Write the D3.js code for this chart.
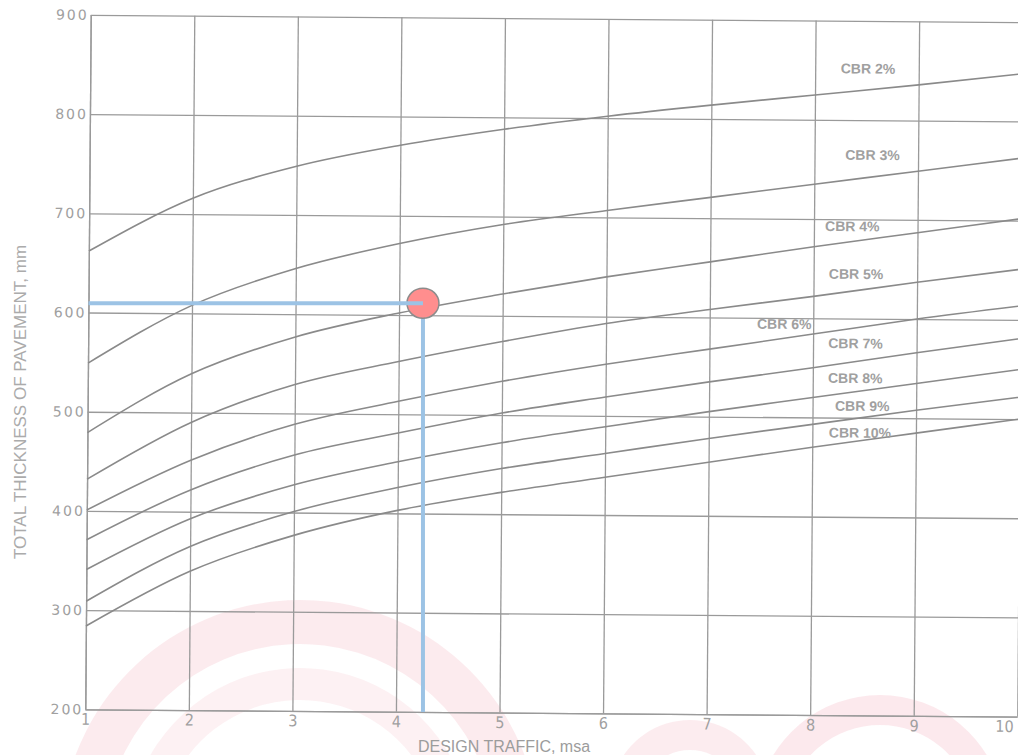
<!DOCTYPE html>
<html>
<head>
<meta charset="utf-8">
<script src="https://cdn.jsdelivr.net/npm/d3@7"></script>
<style>
  html, body { margin: 0; padding: 0; background: #ffffff; }
  svg { display: block; }
</style>
</head>
<body>
<svg id="chart" width="1018" height="755"></svg>
<script>
// Design traffic (million standard axles) at which each curve is tabulated
const trafficMsa = [1, 2, 3, 4, 5, 6, 7, 8, 9, 10];

// Total pavement thickness (mm) for each subgrade CBR
const cbr2  = [662, 716, 749, 771, 788, 802, 814, 825, 836, 848];
const cbr3  = [549, 608, 646, 672, 692, 707, 721, 735, 749, 763];
const cbr4  = [479, 539, 577, 602, 622, 640, 656, 672, 687, 702];
const cbr5  = [432, 490, 529, 553, 574, 593, 608, 622, 637, 651];
const cbr6  = [401, 452, 489, 513, 534, 552, 568, 584, 600, 614];
const cbr7  = [371, 422, 458, 481, 502, 519, 535, 550, 566, 581];
const cbr8  = [341, 393, 428, 452, 472, 489, 505, 520, 535, 550];
const cbr9  = [309, 365, 401, 426, 446, 462, 478, 493, 508, 522];
const cbr10 = [284, 340, 377, 403, 422, 438, 454, 470, 485, 500];

const cbrNames = ["CBR 2%", "CBR 3%", "CBR 4%", "CBR 5%", "CBR 6%", "CBR 7%", "CBR 8%", "CBR 9%", "CBR 10%"];

// Axis ticks
const xTickValues = [1, 2, 3, 4, 5, 6, 7, 8, 9, 10];
const yTickValues = [200, 300, 400, 500, 600, 700, 800, 900];

// Worked example: design traffic and thickness
const exampleTraffic = 4.23;
const exampleThickness = 612;

const series = [cbr2, cbr3, cbr4, cbr5, cbr6, cbr7, cbr8, cbr9, cbr10].map((vals, i) => ({
  name: cbrNames[i],
  points: trafficMsa.map((t, j) => [t, vals[j]])
}));

// ---- layout ----
const svg = d3.select("#chart");
const plotLeft = 88, plotRight = 1020, plotTop = 18.5, plotBottom = 713;
const x = d3.scaleLinear().domain([1, 10]).range([plotLeft, plotRight]);
const y = d3.scaleLinear().domain([200, 900]).range([plotBottom, plotTop]);

// the printed sheet sits very slightly skewed on the page
const tilt = 0.45, pivotX = 550, pivotY = 365;
function turn(px, py) {
  const a = tilt * Math.PI / 180, dx = px - pivotX, dy = py - pivotY;
  return [pivotX + dx * Math.cos(a) - dy * Math.sin(a), pivotY + dx * Math.sin(a) + dy * Math.cos(a)];
}

// ---- faint logo watermark behind the chart ----
const mark = svg.append("g").attr("class", "watermark");
const ring = d3.arc();
[
  { c: [300, 840], r0: 196, r1: 240, a0: -1.45, a1: 1.35, fill: "rgba(236,120,140,0.15)" },
  { c: [300, 840], r0: 140, r1: 172, a0: -1.3, a1: 1.25, fill: "rgba(236,120,140,0.10)" },
  { c: [880, 820], r0: 95,  r1: 125, a0: -1.4, a1: 1.4, fill: "rgba(236,120,140,0.16)" },
  { c: [690, 800], r0: 50,  r1: 80,  a0: -1.2, a1: 1.2, fill: "rgba(236,120,140,0.14)" }
].forEach(d => {
  mark.append("path")
    .attr("transform", `translate(${d.c[0]},${d.c[1]})`)
    .attr("d", ring({ innerRadius: d.r0, outerRadius: d.r1, startAngle: d.a0, endAngle: d.a1 }))
    .attr("fill", d.fill);
});

const sheet = svg.append("g").attr("transform", `rotate(${tilt},${pivotX},${pivotY})`);

const gridColor = "#9a9a9a";
const inkColor = "#8a8a8a";
const labelColor = "#a0a0a0";

// vertical grid + x tick labels
const xAxis = sheet.append("g")
  .attr("transform", `translate(0,${plotBottom})`)
  .call(d3.axisBottom(x).tickValues(xTickValues).tickSize(-(plotBottom - plotTop)).tickSizeOuter(0).tickPadding(4).tickFormat(d3.format("d")));
xAxis.select(".domain").attr("stroke", gridColor).attr("stroke-width", 1.3);
xAxis.selectAll(".tick line").attr("stroke", gridColor).attr("stroke-width", 1.3);
xAxis.selectAll(".tick text")
  .attr("fill", labelColor)
  .attr("text-anchor", d => d === 10 ? "end" : "middle")
  .attr("x", d => d === 10 ? -4 : 0)
  .style("font-family", "'Liberation Sans Narrow', 'DejaVu Sans Condensed', 'Liberation Sans', sans-serif")
  .style("font-size", "16px");

// horizontal grid + y tick labels
const yAxis = sheet.append("g")
  .attr("transform", `translate(${plotLeft},0)`)
  .call(d3.axisLeft(y).tickValues(yTickValues).tickSize(-(plotRight - plotLeft)).tickSizeOuter(0).tickPadding(2).tickFormat(d3.format("d")));
yAxis.select(".domain").attr("stroke", gridColor).attr("stroke-width", 1.3);
yAxis.selectAll(".tick line").attr("stroke", gridColor).attr("stroke-width", 1.3);
yAxis.selectAll(".tick text")
  .attr("fill", labelColor)
  .style("font-family", "'DejaVu Sans', sans-serif")
  .style("font-size", "14px")
  .style("letter-spacing", "2px");

// CBR curves
const line = d3.line().x(d => x(d[0])).y(d => y(d[1])).curve(d3.curveMonotoneX);
sheet.append("g")
  .selectAll("path")
  .data(series)
  .join("path")
  .attr("d", d => line(d.points))
  .attr("fill", "none")
  .attr("stroke", inkColor)
  .attr("stroke-width", 1.6);

// curve labels, placed just above each curve near the right-hand side
const labelAt = [[8.51, 847], [8.56, 760], [8.37, 688], [8.41, 640], [7.72, 589], [8.41, 570], [8.41, 535], [8.48, 507], [8.46, 480]];
sheet.append("g")
  .selectAll("text")
  .data(series)
  .join("text")
  .attr("x", (d, i) => x(labelAt[i][0]))
  .attr("y", (d, i) => y(labelAt[i][1]))
  .attr("text-anchor", "middle")
  .attr("fill", labelColor)
  .style("font-family", "'Liberation Sans', Arial, sans-serif")
  .style("font-weight", "bold")
  .style("font-size", "14px")
  .text(d => d.name);

// axis titles
svg.append("text")
  .attr("transform", `translate(26,402) rotate(-90)`)
  .attr("text-anchor", "middle")
  .attr("fill", "#ababab")
  .style("font-family", "'Liberation Sans', Arial, sans-serif")
  .style("font-size", "17px")
  .text("TOTAL THICKNESS OF PAVEMENT, mm");

svg.append("text")
  .attr("x", 504)
  .attr("y", 752)
  .attr("text-anchor", "middle")
  .attr("fill", "#9c9c9c")
  .style("font-family", "'Liberation Sans', Arial, sans-serif")
  .style("font-size", "16px")
  .text("DESIGN TRAFFIC, msa");

// worked example: read thickness across to the axis and traffic down to the axis
const pt = turn(x(exampleTraffic), y(exampleThickness));
const axisLeftPt = turn(x(1), y(exampleThickness));
const axisBottomPt = turn(x(exampleTraffic), y(200));
const overlay = svg.append("g");
overlay.append("line")
  .attr("x1", pt[0]).attr("y1", pt[1])
  .attr("x2", pt[0]).attr("y2", axisBottomPt[1])
  .attr("stroke", "#9cc3e5").attr("stroke-width", 4);
overlay.append("ellipse")
  .attr("cx", pt[0]).attr("cy", pt[1])
  .attr("rx", 16).attr("ry", 15)
  .attr("fill", "#ff8e8e")
  .attr("stroke", "#8c8c8c")
  .attr("stroke-width", 1.5);
overlay.append("line")
  .attr("x1", axisLeftPt[0]).attr("y1", pt[1])
  .attr("x2", pt[0]).attr("y2", pt[1])
  .attr("stroke", "#9cc3e5").attr("stroke-width", 4);
</script>
</body>
</html>
